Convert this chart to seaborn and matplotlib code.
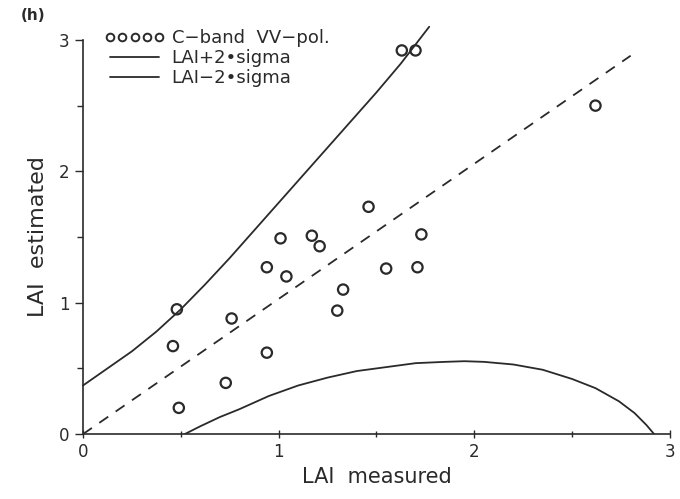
import numpy as np
import pandas as pd
import seaborn as sns
import matplotlib.pyplot as plt
from matplotlib.lines import Line2D

# точки: LAI measured / LAI estimated (C-band VV-pol.)
lai_meas = [0.48, 0.46, 0.49, 0.76, 0.73, 0.94, 0.94, 1.01, 1.04, 1.17,
            1.21, 1.30, 1.33, 1.46, 1.55, 1.71, 1.73, 1.63, 1.70, 2.62]
lai_est = [0.95, 0.67, 0.20, 0.88, 0.39, 1.27, 0.62, 1.49, 1.20, 1.51,
           1.43, 0.94, 1.10, 1.73, 1.26, 1.27, 1.52, 2.92, 2.92, 2.50]

# кривые LAI +/- 2 sigma
upper_x = [0.0, 0.125, 0.25, 0.375, 0.5, 0.625, 0.75, 0.875, 1.0, 1.125,
           1.25, 1.375, 1.5, 1.625, 1.77]
upper_y = [0.37, 0.50, 0.63, 0.78, 0.95, 1.14, 1.34, 1.55, 1.76, 1.97,
           2.18, 2.39, 2.60, 2.82, 3.10]
lower_x = [0.52, 0.6, 0.7, 0.8, 0.95, 1.1, 1.25, 1.4, 1.55, 1.7, 1.85, 1.95,
           2.05, 2.2, 2.35, 2.5, 2.62, 2.74, 2.82, 2.88, 2.92]
lower_y = [0.0, 0.06, 0.13, 0.19, 0.29, 0.37, 0.43, 0.48, 0.51, 0.54, 0.55, 0.555,
           0.55, 0.53, 0.49, 0.42, 0.35, 0.25, 0.16, 0.07, 0.0]

# линия 1:1 (пунктир)
diag_x = [0.0, 2.8]
diag_y = [0.0, 2.88]

x_ticks = [0, 1, 2, 3]
y_ticks = [0, 1, 2, 3]

ink = '#2a2a2a'
sns.set_style('ticks')
plt.rcParams['font.family'] = ['DejaVu Sans']

fig = plt.figure(figsize=(6.8, 4.99), dpi=100)
ax = fig.add_axes([0.122, 0.13, 0.863, 0.79])

pts = pd.DataFrame({'meas': lai_meas, 'est': lai_est})
sns.scatterplot(data=pts, x='meas', y='est', ax=ax, marker='o', s=55,
                facecolor='none', edgecolor=ink, linewidth=1.6, clip_on=False)

sns.lineplot(x=upper_x, y=upper_y, ax=ax, color=ink, linewidth=1.3,
             sort=False, estimator=None, clip_on=False)
sns.lineplot(x=lower_x, y=lower_y, ax=ax, color=ink, linewidth=1.3,
             sort=False, estimator=None)
ax.plot(diag_x, diag_y, color=ink, linewidth=1.3, linestyle=(0, (6, 5)))

ax.set_xlim(0, 3)
ax.set_ylim(0, 3)
ax.set_xticks(x_ticks)
ax.set_yticks(y_ticks)
ax.set_xticks([0.5, 1.5, 2.5], minor=True)
ax.set_yticks([0.5, 1.5, 2.5], minor=True)
ax.tick_params(axis='both', which='major', labelsize=12, color=ink,
               labelcolor=ink, length=6, width=1)
ax.tick_params(axis='x', which='both', direction='inout')
ax.tick_params(axis='both', which='minor', length=4, width=1, color=ink)
sns.despine(ax=ax)
for s in ['left', 'bottom']:
    ax.spines[s].set_color(ink)
    ax.spines[s].set_linewidth(1.2)

ax.set_xlabel('LAI  measured', fontsize=15, color=ink, labelpad=4)
ax.set_ylabel('LAI  estimated', fontsize=16, color=ink, labelpad=8)

handles = [
    Line2D([], [], marker='o', linestyle='none', markerfacecolor='none',
           markeredgecolor=ink, markersize=5.5, markeredgewidth=1.4),
    Line2D([], [], color=ink, linewidth=1.3),
    Line2D([], [], color=ink, linewidth=1.3),
]
labels = ['C\u2212band  VV\u2212pol.', 'LAI+2\u2022sigma', 'LAI\u22122\u2022sigma']
leg = ax.legend(handles, labels, loc='upper left', bbox_to_anchor=(0.025, 1.045),
                frameon=False, numpoints=5, handlelength=3.3, handletextpad=0.4,
                labelspacing=0.1, fontsize=13, borderaxespad=0)
for t in leg.get_texts():
    t.set_color(ink)

fig.text(0.03, 0.96, '(h)', fontsize=11, color=ink, fontweight='bold')

fig.savefig('out.png', dpi=100)
